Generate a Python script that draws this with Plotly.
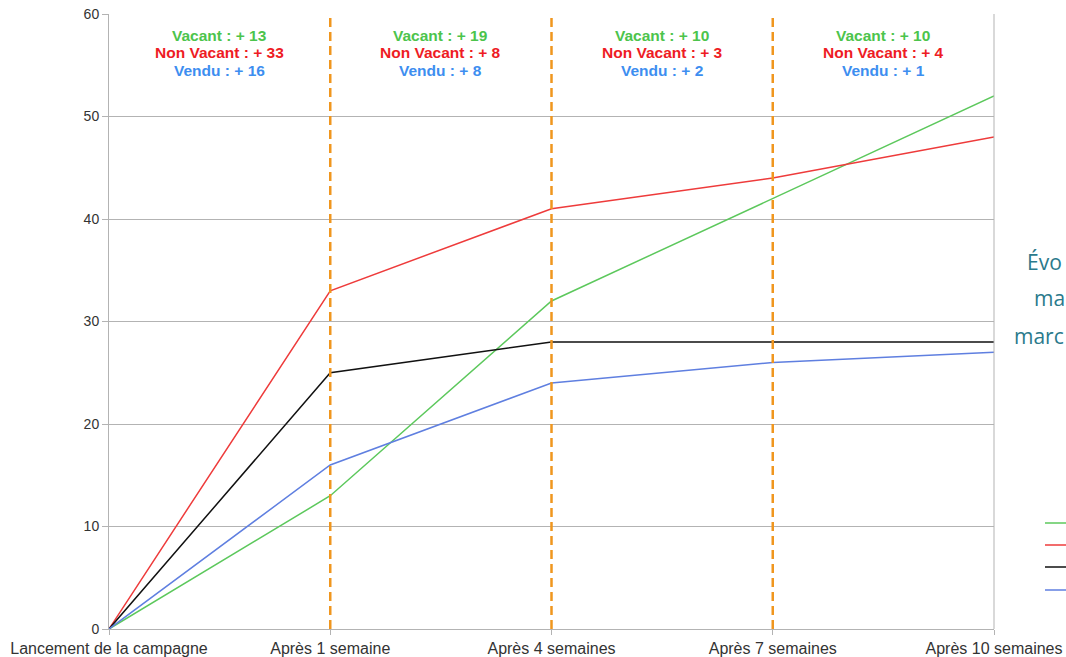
import plotly.graph_objects as go

# Data
categories = ["Lancement de la campagne", "Après 1 semaine", "Après 4 semaines",
              "Après 7 semaines", "Après 10 semaines"]
vacant = [0, 13, 32, 42, 52]
non_vacant = [0, 33, 41, 44, 48]
total = [0, 25, 28, 28, 28]
vendu = [0, 16, 24, 26, 27]
y_ticks = [0, 10, 20, 30, 40, 50, 60]
side_title = ["Évo", "ma", "marc"]

FONT = "Liberation Sans"
L, R, T, B = 109, 72, 14, 28
W, H = 1066, 657
PW, PH = W - L - R, H - T - B


def px_x(p):
    return (p - L) / PW


def px_y(p):
    return (H - B - p) / PH


series = [
    ("Vacant", vacant, "#5cc85c"),
    ("Non Vacant", non_vacant, "#ee3b3b"),
    ("Total", total, "#111111"),
    ("Vendu", vendu, "#5f7fe0"),
]

fig = go.Figure()
for name, vals, color in series:
    fig.add_trace(go.Scatter(
        x=categories, y=vals, name=name, mode="lines",
        line=dict(color=color, width=1.5), showlegend=False,
    ))

# Orange dashed separators at intermediate milestones
for cat in categories[1:-1]:
    fig.add_shape(type="line", xref="x", yref="y", x0=cat, x1=cat, y0=0, y1=60,
                  line=dict(color="#f0961e", width=2.5, dash="9px,5px"), layer="above")

# Period increments written between milestones
label_rows = [("Vacant", vacant, "#4cc44c"),
              ("Non Vacant", non_vacant, "#ee1c24"),
              ("Vendu", vendu, "#3d8ef0")]
row_px = [35, 53, 71]
for i in range(len(categories) - 1):
    for (name, vals, color), py in zip(label_rows, row_px):
        delta = vals[i + 1] - vals[i]
        fig.add_annotation(
            x=i + 0.5, xref="x", y=px_y(py), yref="paper",
            text=f"<b>{name} : + {delta}</b>", showarrow=False,
            font=dict(family=FONT, size=15.5, color=color),
            xanchor="center", yanchor="middle",
        )

# Side title (runs to the right edge of the page)
for txt, px, py in zip(side_title, [1025, 1032, 1012], [262, 298, 336]):
    fig.add_annotation(
        x=px_x(px), xref="paper", y=px_y(py), yref="paper",
        text=txt, showarrow=False, xanchor="left", yanchor="middle",
        font=dict(family="Open Sans", size=21, color="#2b7a8c"),
    )

# Legend swatches (labels lie beyond the page edge)
for (name, vals, color), py in zip(series, [523, 545, 567, 590]):
    fig.add_shape(type="line", xref="paper", yref="paper",
                  x0=px_x(1045), x1=px_x(1070), y0=px_y(py), y1=px_y(py),
                  line=dict(color=color, width=1.5))

fig.update_layout(
    width=W, height=H,
    margin=dict(l=L, r=R, t=T, b=B, autoexpand=False),
    paper_bgcolor="white", plot_bgcolor="white",
    showlegend=False,
    font=dict(family=FONT, color="#333333"),
)
fig.update_xaxes(
    type="category", range=[0, 4], showgrid=False,
    showline=True, linecolor="#b3b3b3", linewidth=1,
    ticks="outside", ticklen=5, tickcolor="#b3b3b3",
    tickfont=dict(family=FONT, size=16, color="#333333"),
    zeroline=False,
)
fig.update_yaxes(
    range=[0, 60], tickvals=y_ticks, showgrid=True, gridcolor="#b3b3b3", gridwidth=1,
    showline=True, linecolor="#b3b3b3", linewidth=1,
    ticks="outside", ticklen=6, tickcolor="#b3b3b3",
    tickfont=dict(family=FONT, size=14, color="#333333"),
    zeroline=False,
)
# Right frame line of the plot area
fig.add_shape(type="line", xref="paper", yref="paper", x0=1, x1=1, y0=0, y1=1,
              line=dict(color="#b3b3b3", width=1))

fig.write_html("out.html")
